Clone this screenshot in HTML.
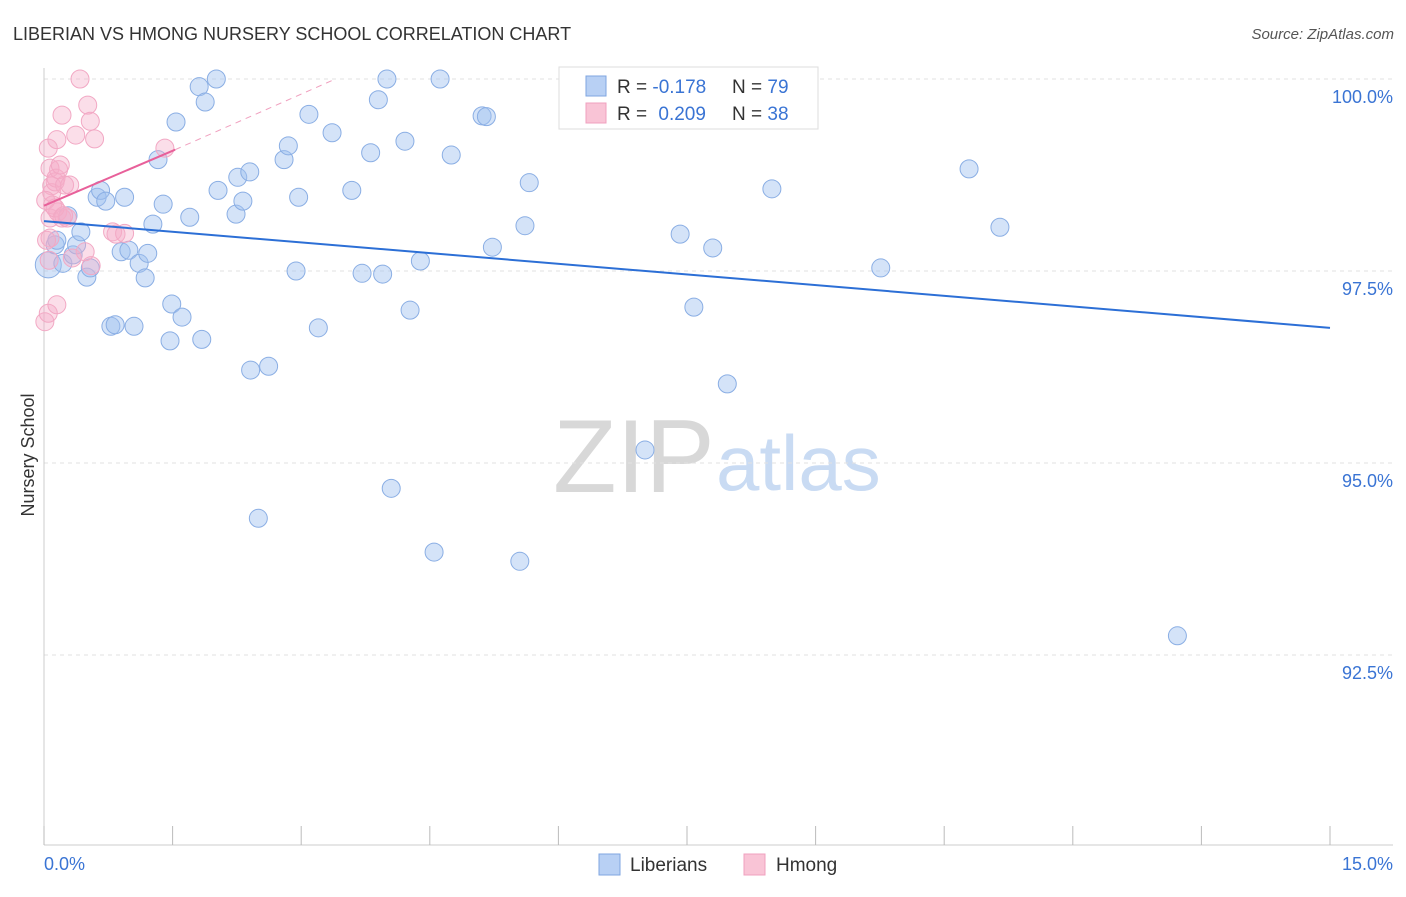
<!DOCTYPE html>
<html><head><meta charset="utf-8"><style>
body{margin:0;background:#fff;font-family:"Liberation Sans",sans-serif;}
svg text{font-family:"Liberation Sans",sans-serif;}
</style></head><body>
<svg id="chart" width="1406" height="892" xmlns="http://www.w3.org/2000/svg">
<text x="13" y="40" font-size="18" fill="#333">LIBERIAN VS HMONG NURSERY SCHOOL CORRELATION CHART</text>
<text x="1394" y="39" font-size="15" fill="#555" font-style="italic" text-anchor="end">Source: ZipAtlas.com</text>
<g>
<text x="553" y="492" font-size="104" fill="#d8d8d8" font-family="Liberation Serif">ZIP</text>
<text x="716" y="490" font-size="78" fill="#c9dbf3">atlas</text>
</g>
<g id="grid"></g>
<g id="axes"></g>
<g id="marks"></g>
<text transform="translate(34,455) rotate(-90)" font-size="18" fill="#333" text-anchor="middle">Nursery School</text>
<g>
<rect x="559" y="67" width="259" height="62" fill="#fff" stroke="#ddd"/>
<rect x="586" y="76" width="20" height="20" fill="#b8d0f4" stroke="#7fa6e0"/>
<rect x="586" y="103" width="20" height="20" fill="#f9c4d6" stroke="#f0a0bf"/>
<text x="617" y="93" font-size="19" fill="#333">R = <tspan fill="#3a74d4">-0.178</tspan></text>
<text x="732" y="93" font-size="19" fill="#333">N = <tspan fill="#3a74d4">79</tspan></text>
<text x="617" y="120" font-size="19" fill="#333">R = <tspan fill="#3a74d4" dx="6">0.209</tspan></text>
<text x="732" y="120" font-size="19" fill="#333">N = <tspan fill="#3a74d4">38</tspan></text>
</g>
<g>
<rect x="599" y="854" width="21" height="21" fill="#b8d0f4" stroke="#7fa6e0"/>
<text x="630" y="871" font-size="19" fill="#333">Liberians</text>
<rect x="744" y="854" width="21" height="21" fill="#f9c4d6" stroke="#f0a0bf"/>
<text x="776" y="871" font-size="19" fill="#333">Hmong</text>
</g>
</svg>
<script>
const blueX=[0.05,0.13,0.15,0.22,0.28,0.34,0.38,0.43,0.50,0.54,0.62,0.66,0.72,0.78,0.83,0.90,0.94,0.99,1.05,1.11,1.18,1.21,1.27,1.33,1.39,1.47,1.49,1.54,1.61,1.70,1.81,1.84,1.88,2.01,2.03,2.24,2.26,2.32,2.40,2.41,2.50,2.62,2.80,2.85,2.94,2.97,3.09,3.20,3.36,3.59,3.71,3.81,3.90,3.95,4.00,4.05,4.21,4.27,4.39,4.55,4.62,4.75,5.11,5.16,5.23,5.55,5.61,5.66,6.25,7.01,7.42,7.58,7.80,7.97,8.49,9.76,10.79,11.15,13.22];
const blueY=[97.58,97.84,97.90,97.60,98.22,97.71,97.84,98.01,97.42,97.54,98.46,98.55,98.41,96.78,96.80,97.75,98.46,97.77,96.78,97.60,97.41,97.73,98.11,98.95,98.37,96.59,97.07,99.44,96.90,98.20,99.90,96.61,99.70,100.0,98.55,98.24,98.72,98.41,98.79,96.21,94.28,96.26,98.95,99.13,97.50,98.46,99.54,96.76,99.30,98.55,97.47,99.04,99.73,97.46,100.0,94.67,99.19,96.99,97.63,93.84,100.0,99.01,99.52,99.51,97.81,93.72,98.09,98.65,100.0,95.17,97.98,97.03,97.80,96.03,98.57,97.54,98.83,98.07,92.75];
const pinkX=[0.01,0.05,0.05,0.07,0.07,0.07,0.09,0.09,0.10,0.13,0.14,0.15,0.16,0.17,0.19,0.21,0.21,0.24,0.27,0.30,0.33,0.37,0.42,0.48,0.51,0.54,0.55,0.59,0.80,0.84,0.94,1.41,0.15,0.03,0.02,0.06,0.13,0.23];
const pinkY=[96.84,96.95,99.10,98.84,98.19,97.93,98.61,98.52,98.36,98.66,98.71,97.06,98.27,98.82,98.88,99.53,98.19,98.62,98.19,98.62,97.67,99.27,100.0,97.75,99.66,99.45,97.57,99.22,98.01,97.98,97.99,99.10,99.21,97.90,98.42,97.64,98.32,98.22];
const yTicks=[100,97.5,95,92.5];
const yTickLabels=["100.0%","97.5%","95.0%","92.5%"];
const xTicks=[0,1.5,3,4.5,6,7.5,9,10.5,12,13.5,15];
const xEndLabels=["0.0%","15.0%"];
const blueTrend=[[0,98.15],[15,96.76]];
const pinkTrend=[[0,98.35],[1.53,99.08]];
const pinkDash=[[1.53,99.08],[3.4,100.0]];

const NS="http://www.w3.org/2000/svg";
const sx=v=>44+v/15*1286;
const sy=v=>79+(100-v)/2.5*192;
function mk(tag,attrs,parent){const e=document.createElementNS(NS,tag);for(const k in attrs)e.setAttribute(k,attrs[k]);parent.appendChild(e);return e;}
const grid=document.getElementById('grid'),axes=document.getElementById('axes'),marks=document.getElementById('marks');
yTicks.forEach((t,i)=>{
  const l=mk('line',{x1:44,x2:1393,y1:sy(t),y2:sy(t),stroke:'#e2e2e2','stroke-dasharray':'4,4'},grid);
  
  
  const tx=mk('text',{x:1393,y:sy(t)+24,'font-size':18,fill:'#3a74d4','text-anchor':'end'},axes);
  tx.textContent=yTickLabels[i];
  
  
});
const ya=mk('line',{x1:44,x2:44,y1:68,y2:845,stroke:'#ccc'},axes);


const xa=mk('line',{x1:44,x2:1393,y1:845,y2:845,stroke:'#ccc'},axes);


xTicks.forEach(t=>{
  const l=mk('line',{x1:sx(t),x2:sx(t),y1:826,y2:845,stroke:'#bbb'},axes);
  
  
});
const xl0=mk('text',{x:44,y:870,'font-size':18,fill:'#3a74d4'},axes);xl0.textContent=xEndLabels[0];


const xl1=mk('text',{x:1393,y:870,'font-size':18,fill:'#3a74d4','text-anchor':'end'},axes);xl1.textContent=xEndLabels[1];



blueX.forEach((x,i)=>{
  const c=mk('circle',{cx:sx(x),cy:sy(blueY[i]),r:i===0?13:9,fill:'rgba(160,192,240,0.45)',stroke:'#8aaee4','stroke-width':1},marks);
  
  
});
pinkX.forEach((x,i)=>{
  const c=mk('circle',{cx:sx(x),cy:sy(pinkY[i]),r:9,fill:'rgba(246,172,200,0.4)',stroke:'#f2a8c4','stroke-width':1},marks);
  
  
});
const bt=mk('line',{x1:sx(blueTrend[0][0]),y1:sy(blueTrend[0][1]),x2:sx(blueTrend[1][0]),y2:sy(blueTrend[1][1]),stroke:'#2c6fd6','stroke-width':2},marks);


const pd=mk('line',{x1:sx(pinkDash[0][0]),y1:sy(pinkDash[0][1]),x2:sx(pinkDash[1][0]),y2:sy(pinkDash[1][1]),stroke:'#f0a0bf','stroke-width':1,'stroke-dasharray':'6,5'},marks);


const pt=mk('line',{x1:sx(pinkTrend[0][0]),y1:sy(pinkTrend[0][1]),x2:sx(pinkTrend[1][0]),y2:sy(pinkTrend[1][1]),stroke:'#e8609a','stroke-width':2},marks);


</script>
</body></html>
